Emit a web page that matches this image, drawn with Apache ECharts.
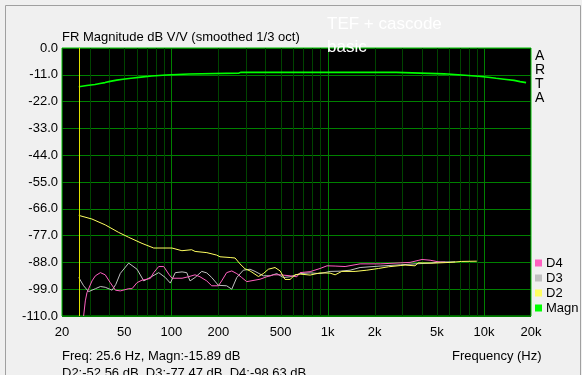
<!DOCTYPE html>
<html>
<head>
<meta charset="utf-8">
<script src="https://cdn.jsdelivr.net/npm/echarts@6/dist/echarts.min.js"></script>
<style>
html,body{margin:0;padding:0;background:#f0f0f0;}
#chart{width:582px;height:375px;}
</style>
</head>
<body>
<div id="chart"></div>
<script>
// ---- data (frequency Hz, level dB) ----
const magnData = [[25.6,-15.9],[28.8,-15.4],[32.5,-15.0],[35,-14.6],[37.7,-14.2],[40.6,-13.7],[44.8,-13.2],[49.1,-12.8],[55.3,-12.4],[64,-11.95],[75,-11.5],[92.6,-11.1],[130,-10.7],[271,-10.3],[280,-10.0],[2740,-10.0],[2760,-10.3],[5560,-10.6],[7570,-11.2],[9180,-11.6],[10640,-12.0],[11960,-12.4],[13460,-12.8],[15600,-13.3],[17030,-13.8],[18600,-14.2]];
const d2Data = [[25.6,-68.7],[31.1,-70.2],[37.8,-72.6],[46.1,-75.7],[53.4,-77.7],[65.0,-80.2],[77.2,-82.1],[101,-82.1],[117,-83.2],[135,-82.8],[142,-83.5],[169,-84.0],[195,-85.0],[205,-85.7],[238,-86.0],[256,-86.2],[275,-88.6],[296,-90.6],[319,-91.5],[361,-93.8],[388,-92.6],[418,-90.8],[461,-90.1],[497,-91.5],[534,-95.0],[575,-95.0],[619,-93.1],[667,-92.8],[773,-93.2],[895,-92.3],[1037,-92.4],[1117,-93.1],[1145,-93.9],[1233,-91.7],[1499,-91.7],[1783,-91.2],[2114,-90.5],[2449,-89.8],[2911,-89.3],[3129,-89.1],[3625,-89.4],[3793,-88.2],[4730,-88.3],[6070,-88.0],[7210,-87.6],[9000,-87.5]];
const d3Data = [[25.6,-94.2],[27.5,-97.6],[29.6,-100.0],[32.7,-98.8],[35.2,-97.9],[37.8,-98.2],[41.8,-99.4],[44.2,-97.0],[47.2,-92.5],[53.4,-88.3],[60.4,-90.8],[66.7,-95.6],[69.9,-94.9],[83.1,-92.2],[91.6,-94.2],[98.6,-96.5],[106.1,-92.2],[117.2,-91.9],[125.6,-92.2],[131.8,-95.6],[141.9,-94.2],[156.6,-91.7],[168.6,-92.3],[181.5,-94.2],[200,-97.4],[226,-97.6],[243.7,-99.0],[262.4,-94.2],[289,-91.2],[319,-90.8],[343.5,-91.7],[388,-93.5],[428.5,-93.5],[473,-92.6],[521,-94.2],[575,-93.9],[667,-92.6],[773,-92.3],[895,-92.6],[1037,-91.7],[1202,-91.6],[1393,-91.2],[1614,-90.1],[2167,-89.5],[2911,-89.0],[3625,-88.6],[4524,-88.3],[5240,-87.8],[6540,-87.8]];
const d4Data = [[27.5,-110],[28.2,-103.8],[28.9,-100.4],[31.1,-95.6],[32.7,-93.5],[35.2,-92.2],[37.8,-93.1],[40.7,-96.3],[43.9,-99.4],[47.2,-99.7],[53.4,-98.8],[56.1,-98.8],[60.4,-96.3],[65.0,-95.3],[73.4,-94.6],[77.2,-92.2],[83.1,-89.7],[89.5,-89.7],[96.3,-92.8],[101.1,-94.5],[117.2,-94.5],[128.6,-93.9],[141.9,-93.1],[152.7,-93.9],[168.6,-95.6],[181.5,-97.6],[200,-97.6],[210,-95.6],[226,-92.2],[243.7,-91.5],[262.4,-92.6],[282.3,-94.2],[304,-95.9],[369.8,-94.9],[408,-93.9],[450,-93.1],[496.6,-93.1],[575,-93.5],[635,-93.9],[666.6,-92.2],[773,-91.8],[895,-90.5],[991,-89.4],[1117,-89.5],[1294,-89.7],[1614,-88.6],[2167,-88.6],[2911,-88.2],[3366,-88.0],[3793,-87.2],[4020,-86.8],[4524,-87.1],[5240,-87.9],[5640,-87.9]];

const xTickValues = [20,50,100,200,500,1000,2000,5000,10000,20000];
const xTickLabels = ['20','50','100','200','500','1k','2k','5k','10k','20k'];
const xMinorGrid = [30,40,50,60,70,80,90,200,300,400,500,600,700,800,900,2000,3000,4000,5000,6000,7000,8000,9000];
const xMajorGrid = [100,1000,10000];
const cursorFreq = [25.6];
const yMin = -110, yMax = 0, yStep = 11;

const FONT = 'Liberation Sans, Arial, sans-serif';
const chart = echarts.init(document.getElementById('chart'), null, {renderer:'canvas'});

function lineSeries(name, data, color, width, z){
  return {name, type:'line', data, showSymbol:false, symbol:'none', color,
    lineStyle:{color, width}, z, silent:true, animation:false, emphasis:{disabled:true}};
}
// vertical lines drawn through the axis scale (api.coord)
function vLines(name, values, color, z){
  return {name, type:'custom', coordinateSystem:'cartesian2d', z, silent:true, animation:false,
    data: values.map(v => [v, yMin]),
    renderItem(params, api){
      const p0 = api.coord([api.value(0), yMin]);
      const p1 = api.coord([api.value(0), yMax]);
      const x = Math.round(p0[0]) + 0.5;
      return {type:'line', shape:{x1:x, y1:p0[1], x2:x, y2:p1[1]}, style:{stroke:color, lineWidth:1}};
    }};
}
function xLabels(name, values, labels){
  return {name, type:'custom', coordinateSystem:'cartesian2d', z:5, silent:true, animation:false,
    data: values.map(v => [v, yMin]),
    renderItem(params, api){
      const p = api.coord([api.value(0), yMin]);
      return {type:'text', x:p[0], y:p[1] + 10,
        style:{text:labels[params.dataIndex], font:'13px '+FONT, fill:'#000', align:'center', verticalAlign:'top'}};
    }};
}

chart.setOption({
  backgroundColor:'#f0f0f0',
  animation:false,
  grid:{left:62, right:51, top:48, bottom:59, show:true, backgroundColor:'#000', borderColor:'#00c000', borderWidth:1},
  xAxis:{type:'log', logBase:10, min:20, max:20000, axisLabel:{show:false}, axisTick:{show:false}, axisLine:{show:false}, splitLine:{show:false}},
  yAxis:{type:'value', min:yMin, max:yMax, interval:yStep,
    axisLabel:{formatter: v => v.toFixed(1), fontSize:13, color:'#000', fontFamily:FONT, margin:4},
    axisTick:{show:false}, axisLine:{show:false},
    splitLine:{lineStyle:{color:'#008000', width:1}}},
  legend:{data:['D4','D3','D2','Magn'], orient:'vertical', left:535, top:256, icon:'rect', itemWidth:7, itemHeight:7, itemGap:1,
    textStyle:{fontSize:13, color:'#000', fontFamily:FONT, lineHeight:14, padding:[0,0,0,-1]}, padding:0, selectedMode:false},
  series:[
    vLines('gridMinor', xMinorGrid, '#004400', 1),
    vLines('gridMajor', xMajorGrid, '#008000', 1),
    xLabels('ticks', xTickValues, xTickLabels),
    lineSeries('D3', d3Data, '#c0c0c0', 1, 3),
    lineSeries('D4', d4Data, '#ff60c0', 1, 3),
    lineSeries('D2', d2Data, '#ffff60', 1, 3),
    lineSeries('Magn', magnData, '#00ff00', 1.6, 3),
    vLines('cursor', cursorFreq, '#e0e000', 4)
  ],
  graphic:[
    {type:'rect', left:3, top:3, shape:{width:575, height:400}, style:{fill:'none', stroke:'#a0a0a0', lineWidth:1}, z:-1, silent:true},
    {type:'text', left:62, top:31, style:{text:'FR Magnitude dB V/V (smoothed 1/3 oct)', font:'13px '+FONT, fill:'#000'}, z:10},
    {type:'text', left:327, top:16, style:{text:'TEF + cascode', font:'17px '+FONT, fill:'#ffffff'}, z:10},
    {type:'text', left:327, top:39, style:{text:'basic', font:'17px '+FONT, fill:'#ffffff'}, z:10},
    {type:'text', left:535, top:49, style:{text:'A\nR\nT\nA', font:'14px '+FONT, fill:'#000', lineHeight:14, align:'center'}, z:10},
    {type:'text', left:62, top:350, style:{text:'Freq: 25.6 Hz, Magn:-15.89 dB', font:'13px '+FONT, fill:'#000'}, z:10},
    {type:'text', left:62, top:367, style:{text:'D2:-52.56 dB, D3:-77.47 dB, D4:-98.63 dB', font:'13px '+FONT, fill:'#000'}, z:10},
    {type:'text', left:452, top:350, style:{text:'Frequency (Hz)', font:'13px '+FONT, fill:'#000'}, z:10}
  ]
});
</script>
</body>
</html>
